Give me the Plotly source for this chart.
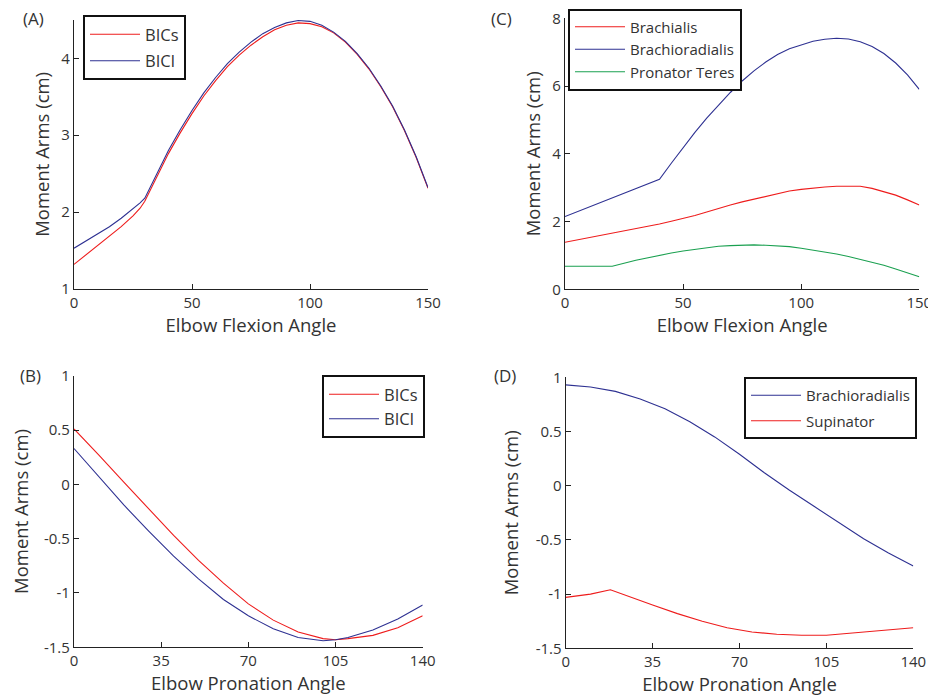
import plotly.graph_objects as go

# (A) elbow flexion, biceps
flex_a = [0, 5, 10, 15, 20, 25, 28, 30, 35, 40, 45, 50, 55, 60, 65, 70, 75, 80, 85,
          90, 95, 100, 105, 110, 115, 120, 125, 130, 135, 140, 145, 150]
bics_a = [1.32, 1.44, 1.57, 1.69, 1.81, 1.95, 2.05, 2.14, 2.44, 2.76, 3.03, 3.28, 3.51,
          3.71, 3.89, 4.04, 4.17, 4.28, 4.37, 4.43, 4.46, 4.45, 4.41, 4.33, 4.21, 4.05,
          3.86, 3.63, 3.37, 3.06, 2.71, 2.31]
bicl_a = [1.53, 1.62, 1.71, 1.81, 1.92, 2.04, 2.12, 2.18, 2.48, 2.80, 3.07, 3.32, 3.55,
          3.75, 3.93, 4.08, 4.21, 4.32, 4.40, 4.46, 4.49, 4.48, 4.43, 4.34, 4.22, 4.06,
          3.87, 3.64, 3.38, 3.07, 2.72, 2.32]

# (C) elbow flexion, other flexors
flex_c = [0, 10, 20, 30, 40, 45, 50, 55, 60, 65, 70, 75, 80, 85, 90, 95, 100, 105,
          110, 115, 120, 125, 130, 135, 140, 145, 150]
brachialis = [1.39, 1.52, 1.66, 1.79, 1.93, 2.01, 2.09, 2.18, 2.28, 2.39, 2.49, 2.58,
              2.66, 2.75, 2.83, 2.90, 2.95, 2.99, 3.02, 3.04, 3.05, 3.04, 2.98, 2.89,
              2.78, 2.64, 2.49]
brachiorad_c = [2.15, 2.42, 2.69, 2.97, 3.25, 3.72, 4.19, 4.63, 5.05, 5.44, 5.81, 6.15,
                6.45, 6.71, 6.93, 7.10, 7.22, 7.32, 7.38, 7.41, 7.39, 7.31, 7.17, 6.96,
                6.68, 6.33, 5.90]
pronator = [0.68, 0.68, 0.68, 0.86, 1.01, 1.07, 1.13, 1.18, 1.23, 1.27, 1.29, 1.31,
            1.31, 1.30, 1.29, 1.26, 1.21, 1.16, 1.11, 1.04, 0.97, 0.89, 0.80, 0.71,
            0.60, 0.49, 0.37]

# (B) elbow pronation, biceps
pron_b = [0, 10, 20, 30, 40, 50, 60, 70, 80, 90, 100, 105, 110, 120, 130, 140]
bics_b = [0.51, 0.27, 0.02, -0.23, -0.47, -0.70, -0.91, -1.10, -1.25, -1.36, -1.42,
          -1.43, -1.42, -1.39, -1.32, -1.21]
bicl_b = [0.33, 0.07, -0.19, -0.43, -0.66, -0.87, -1.06, -1.21, -1.33, -1.41, -1.44,
          -1.43, -1.41, -1.34, -1.24, -1.11]

# (D) elbow pronation, brachioradialis / supinator
pron_d = [0, 10, 20, 30, 40, 50, 60, 70, 80, 90, 100, 110, 120, 130, 140]
brachiorad_d = [0.93, 0.91, 0.87, 0.80, 0.71, 0.59, 0.45, 0.29, 0.12, -0.04, -0.19,
                -0.34, -0.49, -0.62, -0.74]
pron_sup = [0, 10, 18, 25, 35, 45, 55, 65, 75, 85, 95, 105, 115, 125, 140]
supinator = [-1.03, -1.00, -0.96, -1.02, -1.10, -1.18, -1.25, -1.31, -1.35, -1.37,
             -1.38, -1.38, -1.36, -1.34, -1.31]

RED = "#ee1c1c"
BLUE = "#2e3192"
GREEN = "#1aa050"
FONT = "Open Sans"
TXT = "#333333"

# the page body has an 8px margin, so the figure is 8px smaller each way
PAD = 8
W, H = 936 - PAD, 700 - PAD


def xp(px):
    return (px - PAD) / W


def yp(py):
    return 1 - (py - PAD) / H


fig = go.Figure()


def line(x, y, name, color, xa, ya, legend, group):
    fig.add_trace(go.Scatter(
        x=x, y=y, name=name, mode="lines",
        line=dict(color=color, width=1.1),
        xaxis=xa, yaxis=ya, legend=legend, legendgroup=group,
    ))


line(flex_a, bics_a, "BICs", RED, "x", "y", "legend", "a1")
line(flex_a, bicl_a, "BICl", BLUE, "x", "y", "legend", "a2")
line(flex_c, brachialis, "Brachialis", RED, "x2", "y2", "legend2", "c1")
line(flex_c, brachiorad_c, "Brachioradialis", BLUE, "x2", "y2", "legend2", "c2")
line(flex_c, pronator, "Pronator Teres", GREEN, "x2", "y2", "legend2", "c3")
line(pron_b, bics_b, "BICs", RED, "x3", "y3", "legend3", "b1")
line(pron_b, bicl_b, "BICl", BLUE, "x3", "y3", "legend3", "b2")
line(pron_d, brachiorad_d, "Brachioradialis", BLUE, "x4", "y4", "legend4", "d1")
line(pron_sup, supinator, "Supinator", RED, "x4", "y4", "legend4", "d2")

axis_style = dict(
    showline=True, linecolor="#222222", linewidth=1.2, mirror=False,
    ticks="inside", ticklen=5, tickcolor="#222222", showgrid=False,
    zeroline=False, automargin=False, ticklabeloverflow="allow",
    tickfont=dict(family=FONT, size=15, color=TXT),
)
title_font = dict(family=FONT, size=18.5, color=TXT)

flex_x = dict(range=[0, 150], tickvals=[0, 50, 100, 150],
              title=dict(text="Elbow Flexion Angle", font=title_font, standoff=2))
pron_x = dict(range=[0, 140], tickvals=[0, 35, 70, 105, 140],
              title=dict(text="Elbow Pronation Angle", font=title_font, standoff=2))
flex_y_title = dict(text="Moment Arms (cm)", font=title_font, standoff=6)
pron_y = dict(range=[-1.5, 1], tickvals=[-1.5, -1, -0.5, 0, 0.5, 1],
              ticktext=["-1.5", "-1", "-0.5", "0", "0.5", "1"],
              title=dict(text="Moment Arms (cm)", font=title_font, standoff=12))

legend_style = dict(
    bgcolor="white", bordercolor="#111111", borderwidth=2,
    itemwidth=50, traceorder="grouped",
)
small_font = dict(family=FONT, size=15, color=TXT)
big_font = dict(family=FONT, size=16.5, color=TXT)

fig.update_layout(
    width=W, height=H,
    margin=dict(l=0, r=0, t=0, b=0, autoexpand=False),
    plot_bgcolor="white", paper_bgcolor="white",
    font=dict(family=FONT, color=TXT),
    xaxis=dict(domain=[xp(74), xp(428)], anchor="y", **flex_x, **axis_style),
    yaxis=dict(domain=[yp(289), yp(19.8)], anchor="x", range=[1, 4.5],
               tickvals=[1, 2, 3, 4], title=flex_y_title, **axis_style),
    xaxis2=dict(domain=[xp(565), xp(919.3)], anchor="y2", **flex_x, **axis_style),
    yaxis2=dict(domain=[yp(289.3), yp(18.3)], anchor="x2", range=[0, 8],
                tickvals=[0, 2, 4, 6, 8], title=flex_y_title, **axis_style),
    xaxis3=dict(domain=[xp(74), xp(422.7)], anchor="y3", **pron_x, **axis_style),
    yaxis3=dict(domain=[yp(647.3), yp(375.7)], anchor="x3", **pron_y, **axis_style),
    xaxis4=dict(domain=[xp(565.7), xp(913.3)], anchor="y4", **pron_x, **axis_style),
    yaxis4=dict(domain=[yp(648.3), yp(377.3)], anchor="x4", **pron_y, **axis_style),
    legend=dict(x=xp(83), y=yp(15), xanchor="left", yanchor="top",
                tracegroupgap=2, font=big_font, **legend_style),
    legend2=dict(x=xp(568), y=yp(8.5), xanchor="left", yanchor="top",
                 tracegroupgap=0, font=small_font, **legend_style),
    legend3=dict(x=xp(425), y=yp(375), xanchor="right", yanchor="top",
                 tracegroupgap=0, font=big_font, **legend_style),
    legend4=dict(x=xp(917), y=yp(377), xanchor="right", yanchor="top",
                 tracegroupgap=3, font=small_font, **legend_style),
)

labels = [("(A)", 21, 18), ("(C)", 489, 18), ("(B)", 18, 376), ("(D)", 492, 376)]
for text, px, py in labels:
    fig.add_annotation(
        text=text, x=xp(px), y=yp(py), xref="paper", yref="paper",
        xanchor="left", yanchor="middle", showarrow=False,
        font=dict(family=FONT, size=17, color=TXT),
    )

fig.write_html("out.html")
